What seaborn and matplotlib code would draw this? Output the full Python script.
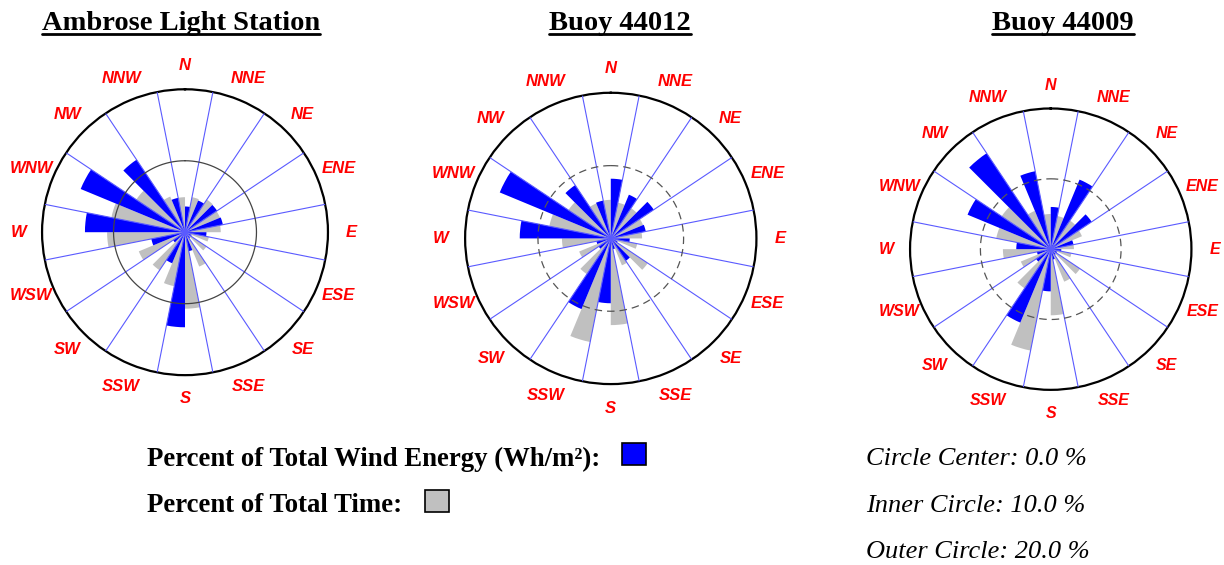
import numpy as np
import pandas as pd
import matplotlib
matplotlib.use('Agg')
import matplotlib.pyplot as plt
import seaborn as sns
from matplotlib.lines import Line2D
from matplotlib.patches import Rectangle

sns.set_style('white')
plt.rcParams['font.family'] = ['Liberation Sans', 'DejaVu Sans']
plt.rcParams['text.color'] = 'black'

directions = ['N', 'NNE', 'NE', 'ENE', 'E', 'ESE', 'SE', 'SSE',
              'S', 'SSW', 'SW', 'WSW', 'W', 'WNW', 'NW', 'NNW']

stations = ['Ambrose Light Station', 'Buoy 44012', 'Buoy 44009']

# percent of total wind energy (blue)
ambrose_energy = [3.6, 4.8, 5.4, 5.4, 3.0, 1.0, 1.0, 2.7, 13.3, 4.7, 2.0, 4.8, 14.0, 15.8, 12.2, 4.9]
b44012_energy = [8.2, 6.5, 7.1, 4.9, 2.6, 1.0, 3.7, 1.5, 8.9, 10.5, 2.0, 2.0, 12.5, 16.5, 8.8, 5.3]
b44009_energy = [6.0, 10.7, 7.0, 3.3, 1.5, 1.0, 1.0, 1.5, 6.0, 11.3, 2.5, 2.0, 4.9, 12.8, 16.4, 11.3]

# percent of total time (gray)
ambrose_time = [4.9, 5.0, 5.5, 5.3, 5.0, 3.4, 3.6, 5.2, 10.7, 7.7, 6.4, 7.0, 10.9, 10.5, 8.2, 5.4]
b44012_time = [5.3, 5.0, 5.0, 4.8, 4.3, 3.7, 6.1, 4.0, 11.9, 14.5, 5.9, 4.7, 6.7, 8.6, 7.0, 5.2]
b44009_time = [5.0, 4.8, 4.9, 4.8, 3.3, 3.0, 5.0, 5.0, 9.4, 14.7, 6.7, 4.6, 6.8, 7.9, 8.4, 5.9]

energy = [ambrose_energy, b44012_energy, b44009_energy]
time_pct = [ambrose_time, b44012_time, b44009_time]

# axes rectangles in figure fractions
rects = [[0.0343, 0.336, 0.2337, 0.506],
         [0.380, 0.320, 0.238, 0.516],
         [0.7435, 0.310, 0.2299, 0.498]]
title_x = [181, 620, 1063]
label_size = [12, 12, 11.5]

fig = plt.figure(figsize=(12.24, 5.65), dpi=100)
angles = np.deg2rad(np.arange(16) * 22.5)

for i in range(3):
    ax = fig.add_axes(rects[i], projection='polar')
    ax.set_theta_zero_location('N')
    ax.set_theta_direction(-1)
    df = pd.DataFrame({
        'theta': np.concatenate([angles, angles]),
        'pct': np.concatenate([time_pct[i], energy[i]]),
        'kind': ['Time'] * 16 + ['Energy'] * 16,
    })
    sns.barplot(data=df, x='theta', y='pct', hue='kind', hue_order=['Time', 'Energy'],
                palette=['#c0c0c0', '#0000ff'], saturation=1, native_scale=True,
                width=1.0, dodge=True, linewidth=0, legend=False, ax=ax, zorder=2)
    ax.set_ylim(0, 20)
    ax.set_xlabel('')
    ax.set_ylabel('')
    ax.set_xticks([])
    ax.set_yticks([])
    ax.grid(False)
    ax.spines['polar'].set_linewidth(1.6)
    ax.spines['polar'].set_color('black')
    # sector boundary lines
    for a in angles + np.deg2rad(11.25):
        ax.plot([a, a], [0, 20], color='#5a5aff', lw=0.8, zorder=3)
    full = np.linspace(0, 2 * np.pi, 361)
    if i == 0:
        ax.plot(full, np.full_like(full, 10), color='#444444', lw=0.9, zorder=3)
    else:
        ax.plot(full, np.full_like(full, 10), color='#555555', lw=0.9,
                ls=(0, (6, 4)), zorder=3)
    for a, d in zip(angles, directions):
        ax.text(a, 23.3, d, color='red', fontsize=label_size[i], fontstyle='italic',
                fontweight='bold', ha='center', va='center', clip_on=False)

# titles
titles = []
for i in range(3):
    t = fig.text(title_x[i] / 1224, 1 - 23 / 565, stations[i], family='Liberation Serif',
                 fontweight='bold', fontsize=20.5, ha='center', va='center')
    titles.append(t)

# legend
fig.text(147 / 1224, 1 - 459 / 565, 'Percent of Total Wind Energy (Wh/m²):',
         family='Liberation Serif', fontweight='bold', fontsize=19.3, ha='left', va='center')
fig.text(147 / 1224, 1 - 506 / 565, 'Percent of Total Time:',
         family='Liberation Serif', fontweight='bold', fontsize=19.3, ha='left', va='center')
fig.patches.append(Rectangle((622 / 1224, 1 - 465 / 565), 24 / 1224, 22 / 565,
                             transform=fig.transFigure, facecolor='#0000ff',
                             edgecolor='black', lw=1.2))
fig.patches.append(Rectangle((425 / 1224, 1 - 512 / 565), 24 / 1224, 22 / 565,
                             transform=fig.transFigure, facecolor='#c0c0c0',
                             edgecolor='black', lw=1.2))

for j, s in enumerate(['Circle Center: 0.0 %', 'Inner Circle: 10.0 %', 'Outer Circle: 20.0 %']):
    fig.text(866 / 1224, 1 - (459 + 46.5 * j) / 565, s, family='Liberation Serif',
             fontstyle='italic', fontsize=19, ha='left', va='center')

# underline titles
fig.canvas.draw()
r = fig.canvas.get_renderer()
for t in titles:
    bb = t.get_window_extent(r).transformed(fig.transFigure.inverted())
    fig.lines.append(Line2D([bb.x0, bb.x1], [bb.y0 + 0.002, bb.y0 + 0.002],
                            transform=fig.transFigure, color='black', lw=2.0))

fig.savefig('out.png', dpi=100)
